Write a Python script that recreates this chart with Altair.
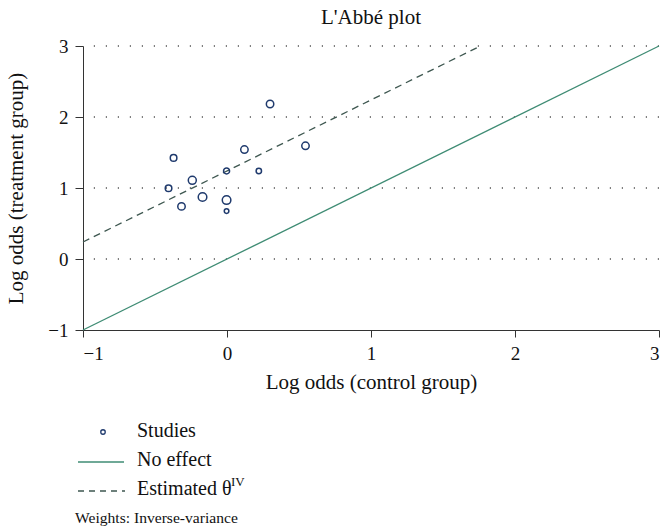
import altair as alt
import pandas as pd

# ---- data ----
ctrl_logodds = [-0.371, 0.121, 0.545, -0.003, 0.221, -0.241, -0.406, -0.170, -0.003, -0.316, -0.003, 0.299]
trt_logodds = [1.424, 1.541, 1.594, 1.240, 1.240, 1.109, 0.996, 0.873, 0.830, 0.741, 0.675, 2.183]
weights = [7.2, 9.1, 9.1, 6.0, 4.8, 10.6, 7.2, 12.2, 12.2, 9.1, 3.5, 9.1]
theta_iv = 1.24
no_effect_x = [-1, 3]
est_x = [-1, 1.76]
ticks = [-1, 0, 1, 2, 3]

FONT = "Liberation Serif"
NAVY = "#1f3a6d"
TEAL = "#3f8c74"
DASH = "#3e5750"
INK = "#111111"

studies = pd.DataFrame({"x": ctrl_logodds, "y": trt_logodds, "w": weights})
noeff = pd.DataFrame({"x": no_effect_x, "y": no_effect_x})
est = pd.DataFrame({"x": est_x, "y": [v + theta_iv for v in est_x]})
grid = pd.DataFrame({"y": ticks[1:]})

xs = alt.Scale(domain=[-1, 3], nice=False, zero=False)
ys = alt.Scale(domain=[-1, 3], nice=False, zero=False)

xaxis = alt.Axis(values=ticks, format="d", title="Log odds (control group)", grid=False,
                 tickSize=7, labelPadding=7, titlePadding=8)
yaxis = alt.Axis(values=ticks, format="d", title="Log odds (treatment group)", grid=False,
                 tickSize=8, labelPadding=7, titlePadding=21)

gridlines = alt.Chart(grid).mark_rule(color="black", strokeWidth=1, strokeDash=[1.2, 10.8]).encode(
    y=alt.Y("y:Q", scale=ys, axis=yaxis),
)

base_x = alt.X("x:Q", scale=xs, axis=xaxis)
base_y = alt.Y("y:Q", scale=ys, axis=yaxis)

line_noeff = alt.Chart(noeff).mark_line(color=TEAL, strokeWidth=1.3).encode(x=base_x, y=base_y)
line_est = alt.Chart(est).mark_line(color=DASH, strokeWidth=1.3, strokeDash=[7, 5]).encode(x=base_x, y=base_y)
points = alt.Chart(studies).mark_point(shape="circle", filled=False, color=NAVY, strokeWidth=1.5, opacity=1).encode(
    x=base_x, y=base_y,
    size=alt.Size("w:Q", scale=alt.Scale(domain=[0, 12.2], range=[0, 74]), legend=None),
)

# ---- manual legend below the plot (offsets relative to plot origin) ----
OX, OY = 83, 46
def px(v):
    return v - OX
def py(v):
    return v - OY

leg_src = pd.DataFrame({"k": [0]})
leg_pt = alt.Chart(leg_src).mark_point(shape="circle", filled=False, color=NAVY, strokeWidth=1.3, size=20, opacity=1).encode(
    x=alt.value(px(103)), y=alt.value(py(432)))
leg_l1 = alt.Chart(leg_src).mark_rule(color=TEAL, strokeWidth=1.3).encode(
    x=alt.value(px(78)), x2=alt.value(px(124)), y=alt.value(py(462)))
leg_l2 = alt.Chart(leg_src).mark_rule(color=DASH, strokeWidth=1.3, strokeDash=[6, 5]).encode(
    x=alt.value(px(78)), x2=alt.value(px(125)), y=alt.value(py(491)))

def txt(s, x, y, size=20, base="middle"):
    return alt.Chart(leg_src).mark_text(text=s, font=FONT, fontSize=size, align="left",
                                        baseline=base, color=INK).encode(
        x=alt.value(px(x)), y=alt.value(py(y)))

leg_t1 = txt("Studies", 137, 431)
leg_t2 = txt("No effect", 137, 460)
leg_t3 = txt("Estimated θ", 137, 489)
leg_t3s = txt("IV", 231, 482, size=13)
leg_t4 = txt("Weights: Inverse-variance", 75, 518, size=15.6)

chart = alt.layer(
    gridlines, line_noeff, line_est, points,
    leg_pt, leg_l1, leg_l2, leg_t1, leg_t2, leg_t3, leg_t3s, leg_t4,
).properties(
    width=576, height=284,
    title=alt.TitleParams("L'Abbé plot", font=FONT, fontSize=21, fontWeight="normal", color=INK, offset=9),
    autosize=alt.AutoSizeParams(type="none"),
    padding={"left": 83, "top": 46, "right": 1, "bottom": 199},
).configure_view(stroke=None).configure_axis(
    labelFont=FONT, titleFont=FONT, labelFontSize=19, titleFontSize=21,
    titleFontWeight="normal", labelColor=INK, titleColor=INK,
    domainColor="#333333", tickColor="#333333", domainWidth=1, tickWidth=1,
)

chart.save("out.html", embed_options={"renderer": "svg", "actions": False})
